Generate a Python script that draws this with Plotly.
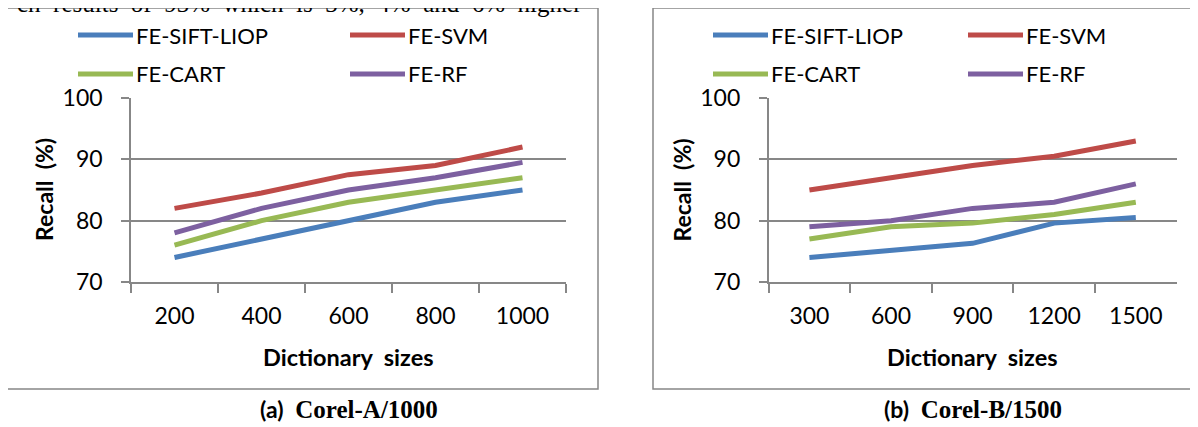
import plotly.graph_objects as go

# page has an 8px body margin; figure fills the rest of the 1198x427 window
OFF = 8
W, H = 1198 - OFF, 427 - OFF

# ---- data ----
sizes_a = ["200", "400", "600", "800", "1000"]
sizes_b = ["300", "600", "900", "1200", "1500"]
series_names = ["FE-SIFT-LIOP", "FE-SVM", "FE-CART", "FE-RF"]
series_colors = ["#4A7EBB", "#BE4B48", "#98B954", "#7D60A0"]

recall_a_sift = [74, 77, 80, 83, 85]
recall_a_svm = [82, 84.5, 87.5, 89, 92]
recall_a_cart = [76, 80, 83, 85, 87]
recall_a_rf = [78, 82, 85, 87, 89.5]

recall_b_sift = [74, 75.1, 76.3, 79.6, 80.5]
recall_b_svm = [85, 87, 89, 90.5, 93]
recall_b_cart = [77, 79, 79.6, 81, 83]
recall_b_rf = [79, 80, 82, 83, 86]

y_ticks = [70, 80, 90, 100]
NB = "\u00a0"
y_title = "Recall" + NB + NB + "(%)"
x_title = "Dictionary" + NB + NB + "sizes"
captions = [("(a)", "Corel-A/1000"), ("(b)", "Corel-B/1500")]
top_words = ["ch", "results", "of", "93%", "which", "is", "3%,", "4%", "and", "6%", "higher"]
top_text = (NB + NB).join(top_words)

# ---- layout helpers (window pixels -> paper) ----
def px(x):
    return (x - OFF) / W

def py(y):
    return 1 - (y - OFF) / H

FONT = "Lato, Calibri, Carlito, sans-serif"
SERIF = "'Liberation Serif', 'Times New Roman', serif"
GRID = "#878787"

panels = [
    dict(x0=131, x1=566, box=(7, 598), sizes=sizes_a,
         data=[recall_a_sift, recall_a_svm, recall_a_cart, recall_a_rf],
         leg=(78, 350)),
    dict(x0=768.6, x1=1176.6, box=(653, 1215), sizes=sizes_b,
         data=[recall_b_sift, recall_b_svm, recall_b_cart, recall_b_rf],
         leg=(713, 968)),
]
y_top, y_bot = 98, 282

fig = go.Figure()
shapes = []
annotations = []

for i, p in enumerate(panels):
    xa = "x" if i == 0 else "x2"
    ya = "y" if i == 0 else "y2"
    for name, color, vals in zip(series_names, series_colors, p["data"]):
        fig.add_trace(go.Scatter(x=p["sizes"], y=vals, mode="lines", name=name,
                                 line=dict(color=color, width=5),
                                 xaxis=xa, yaxis=ya, showlegend=False))
    axis_x = dict(domain=[px(p["x0"]), px(p["x1"])], type="category",
                  tickson="boundaries", ticks="outside", ticklen=9,
                  tickcolor=GRID, tickwidth=1.5, showline=True, linecolor=GRID,
                  linewidth=1.5, showgrid=False, anchor=ya, automargin=False,
                  tickfont=dict(family=FONT, size=23, color="black"),
                  ticklabelstandoff=13, range=[-0.5, 4.5])
    axis_y = dict(domain=[py(y_bot), py(y_top)], range=[70, 100],
                  tickvals=y_ticks, ticks="outside", ticklen=8,
                  tickcolor=GRID, tickwidth=1.5, showline=True,
                  linecolor=GRID, linewidth=1.5, showgrid=True,
                  gridcolor=GRID, gridwidth=1.5, zeroline=False, anchor=xa,
                  automargin=False,
                  tickfont=dict(family=FONT, size=23, color="black"),
                  ticklabelstandoff=14)
    if i == 0:
        fig.update_layout(xaxis=axis_x, yaxis=axis_y)
    else:
        fig.update_layout(xaxis2=axis_x, yaxis2=axis_y)

    # panel frame
    shapes.append(dict(type="rect", xref="paper", yref="paper",
                       x0=px(p["box"][0]), x1=px(p["box"][1]),
                       y0=py(389), y1=py(8),
                       line=dict(color=GRID, width=1.5)))

    # legend (manual, two rows x two columns)
    cols = p["leg"]
    rows = [35, 74]
    for k, (name, color) in enumerate(zip(series_names, series_colors)):
        cx = cols[k % 2]
        ry = rows[k // 2]
        shapes.append(dict(type="line", xref="paper", yref="paper",
                           x0=px(cx), x1=px(cx + 55), y0=py(ry), y1=py(ry),
                           line=dict(color=color, width=5)))
        annotations.append(dict(xref="paper", yref="paper", x=px(cx + 56),
                                y=py(ry), xanchor="left", yanchor="middle",
                                text=name, showarrow=False,
                                font=dict(family=FONT, size=22, color="black")))

    cx_mid = (p["x0"] + p["x1"]) / 2
    # y title
    annotations.append(dict(xref="paper", yref="paper", x=px(p["x0"] - 87),
                            y=py((y_top + y_bot) / 2), textangle=-90,
                            xanchor="center", yanchor="middle",
                            text="<b>" + y_title + "</b>", showarrow=False,
                            font=dict(family=FONT, size=23, color="black")))
    # x title
    annotations.append(dict(xref="paper", yref="paper", x=px(cx_mid),
                            y=py(357), xanchor="center", yanchor="middle",
                            text="<b>" + x_title + "</b>", showarrow=False,
                            font=dict(family=FONT, size=23.5, color="black")))
    # caption
    lab, cap = captions[i]
    annotations.append(dict(xref="paper", yref="paper", x=px(cx_mid),
                            y=py(409), xanchor="center", yanchor="middle",
                            text="<b>" + lab + "</b>" + NB + NB
                                 + "<b><span style=\"font-family:Liberation Serif;font-size:25px\">"
                                 + cap + "</span></b>",
                            showarrow=False,
                            font=dict(family=FONT, size=23, color="black")))

annotations.append(dict(xref="paper", yref="paper", x=px(584), y=py(3.5),
                        xanchor="right", yanchor="middle", text=top_text,
                        showarrow=False,
                        font=dict(family=SERIF, size=25, color="black")))

fig.update_layout(width=W, height=H,
                  margin=dict(l=0, r=0, t=0, b=0, pad=0, autoexpand=False),
                  paper_bgcolor="white", plot_bgcolor="white",
                  shapes=shapes, annotations=annotations, showlegend=False)

fig.write_html("out.html")
